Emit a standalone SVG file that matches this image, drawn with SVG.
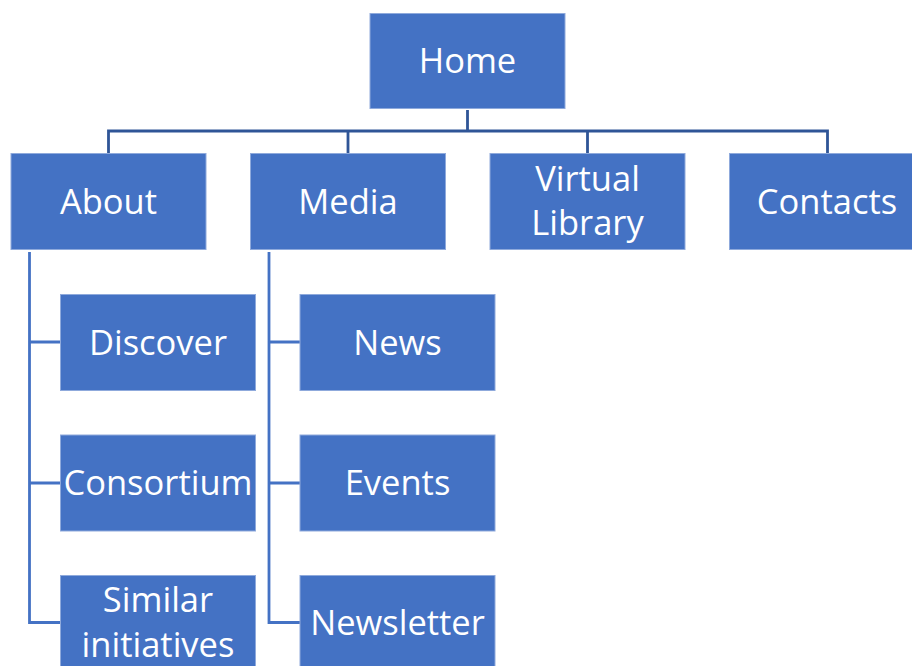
<svg xmlns="http://www.w3.org/2000/svg" width="912" height="666" viewBox="0 0 912 666">
<style>
.box{fill:#4472C4;stroke:#8FAADC;stroke-width:1}
.t{font-family:"Open Sans","Noto Sans",sans-serif;font-size:34.5px;fill:#fff;text-anchor:middle}
.c1{fill:none;stroke:#2F5597;stroke-width:2.8}
.c2{fill:none;stroke:#4472C4;stroke-width:2.8}
</style>
<rect width="912" height="666" fill="#fff"/>
<g id="connectors">
<path class="c1" d="M467.5 110V131M108.5 153V131H827.5V153M348 131V153M587.5 131V153"/>
<path class="c2" d="M29.5 252V622.5H60M29.5 342H60M29.5 483H60"/>
<path class="c2" d="M269 252V622.5H300M269 342H300M269 483H300"/>
</g>
<g id="home"><rect class="box" x="370" y="13.5" width="195" height="95"/><text class="t" x="467.5" y="73">Home</text></g>
<g id="about"><rect class="box" x="11" y="153.5" width="195" height="96"/><text class="t" x="108.5" y="213.5">About</text></g>
<g id="media"><rect class="box" x="250.5" y="153.5" width="195" height="96"/><text class="t" x="348" y="213.5">Media</text></g>
<g id="virtual-library"><rect class="box" x="490" y="153.5" width="195" height="96"/><text class="t" x="587.5" y="190.5">Virtual</text><text class="t" x="587.5" y="235">Library</text></g>
<g id="contacts"><rect class="box" x="729.5" y="153.5" width="195" height="96"/><text class="t" x="827" y="213.5">Contacts</text></g>
<g id="discover"><rect class="box" x="60.5" y="294.5" width="195" height="96"/><text class="t" x="158" y="354.5">Discover</text></g>
<g id="consortium"><rect class="box" x="60.5" y="435" width="195" height="96"/><text class="t" x="158" y="494.5">Consortium</text></g>
<g id="similar-initiatives"><rect class="box" x="60.5" y="575.5" width="195" height="96"/><text class="t" x="158" y="612">Similar</text><text class="t" x="158" y="657">initiatives</text></g>
<g id="news"><rect class="box" x="300" y="294.5" width="195" height="96"/><text class="t" x="397.5" y="354.5">News</text></g>
<g id="events"><rect class="box" x="300" y="435" width="195" height="96"/><text class="t" x="397.5" y="494.5">Events</text></g>
<g id="newsletter"><rect class="box" x="300" y="575.5" width="195" height="96"/><text class="t" x="397.5" y="634.5">Newsletter</text></g>
</svg>
